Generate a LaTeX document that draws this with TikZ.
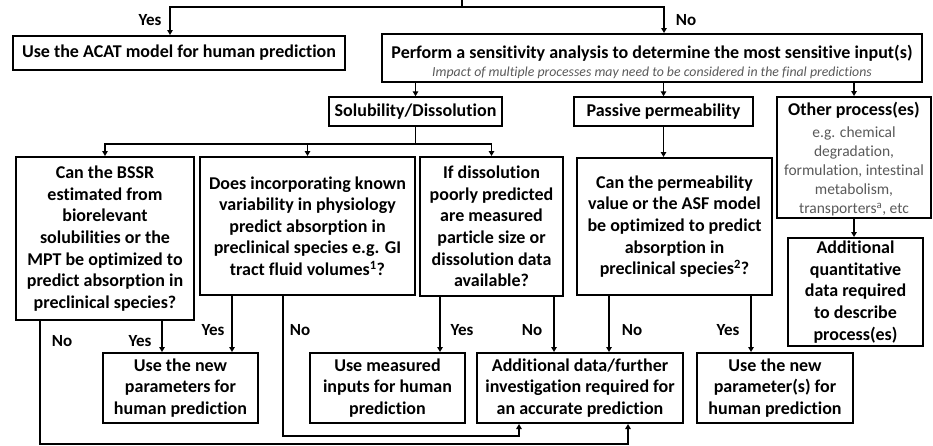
\documentclass[tikz,border=0pt]{standalone}
\usepackage{fontspec}
\setmainfont{Carlito}[Ligatures={NoCommon}]
\usetikzlibrary{arrows.meta}
\definecolor{notegray}{RGB}{89,89,89}
\newcommand\bxfont{\fontsize{18}{21.6}\selectfont\bfseries}
\newcommand\lbfont{\fontsize{17}{20}\selectfont\bfseries}
\newcommand\othfont{\fontsize{15.5}{19}\selectfont\mdseries\color{notegray}}
\begin{document}
\begin{tikzpicture}[x=1pt,y=-1pt,
  box/.style={draw, line width=2pt, align=center, inner sep=0pt, font=\bxfont},
  conn/.style={line width=1.5pt},
  arr/.style={conn, -{Triangle[length=5pt,width=5.5pt]}},
  lbl/.style={font=\lbfont, inner sep=0pt}]
\useasboundingbox (0,0) rectangle (933,445);

% first decision
\node[box, minimum width=332pt, minimum height=34pt] (acat) at (179,53)
  {Use the ACAT model for human prediction};
\node[box, minimum width=540pt, minimum height=48pt] (perf) at (652,58)
  {\rule{0pt}{21pt}Perform a sensitivity analysis to determine the most sensitive input(s)\\[-4pt]
   {\fontsize{13.8}{15}\selectfont\mdseries\itshape\color{notegray}Impact of multiple processes may need to be considered in the final predictions}};

% process categories
\node[box, minimum width=173pt, minimum height=28.5pt] (sol) at (415.5,111.5) {Solubility/Dissolution};
\node[box, minimum width=179pt, minimum height=28.5pt] (pass) at (663.5,111.5) {Passive permeability};
\node[box, minimum width=154pt, minimum height=121pt, font=\othfont] (other) at (854,157.5)
  {{\fontsize{18}{19}\selectfont\bfseries\color{black}\rule{0pt}{17pt}Other process(es)}\\[3pt]
   e.g. chemical\\ degradation,\\ formulation, intestinal\\ metabolism,\\ transporters\textsuperscript{a}, etc};

% questions
\node[box, minimum width=178pt, minimum height=163pt] (qa) at (105,238.5)
  {Can the BSSR\\ estimated from\\ biorelevant\\ solubilities or the\\ MPT be optimized to\\ predict absorption in\\ preclinical species?};
\node[box, minimum width=215pt, minimum height=138pt] (qb) at (307.5,226)
  {Does incorporating known\\ variability in physiology\\ predict absorption in\\ preclinical species e.g. GI\\ tract fluid volumes\textsuperscript{1}?};
\node[box, minimum width=143pt, minimum height=139pt] (qc) at (491.5,226.5)
  {If dissolution\\ poorly predicted\\ are measured\\ particle size or\\ dissolution data\\ available?};
\node[box, minimum width=195pt, minimum height=137pt] (qd) at (674.5,226.5)
  {Can the permeability\\ value or the ASF model\\ be optimized to predict\\ absorption in\\ preclinical species\textsuperscript{2}?};
\node[box, minimum width=135pt, minimum height=108pt] (qe) at (855.5,292)
  {Additional\\ quantitative\\ data required\\ to describe\\ process(es)};

% outcomes
\node[box, minimum width=155pt, minimum height=70pt] (newpar) at (180.5,388)
  {Use the new\\ parameters for\\ human prediction};
\node[box, minimum width=155pt, minimum height=70pt] (measured) at (387.5,388)
  {Use measured\\ inputs for human\\ prediction};
\node[box, minimum width=206pt, minimum height=70pt] (further) at (580,388)
  {Additional data/further\\ investigation required for\\ an accurate prediction};
\node[box, minimum width=156pt, minimum height=70pt] (newperm) at (775,388)
  {Use the new\\ parameter(s) for\\ human prediction};

% top split
\coordinate (root) at (462,0);
\coordinate (fork) at (462,7);
\draw[conn] (root) -- (fork);
\draw[arr] (fork) -| ([xshift=-9pt]acat.north);
\draw[arr] (fork) -| ([xshift=12pt]perf.north);
\node[lbl] (yes0) at (150,20) {Yes};
\node[lbl] (no0) at (686,20) {No};

% sensitivity analysis to categories
\draw[arr] (sol.north |- perf.south) -- (sol.north);
\draw[arr] (pass.north |- perf.south) -- (pass.north);
\draw[arr] (other.north |- perf.south) -- (other.north);

% category to questions
\draw[conn] (sol.south) -- ++(0,17) coordinate (solfork);
\draw[arr] (solfork) -| (qa.north);
\draw[arr] (solfork) -| (qb.north);
\draw[arr] (solfork) -| (qc.north);
\draw[arr] (pass.south) -- (pass.south |- qd.north);
\draw[arr] (other.south) -- (other.south |- qe.north);

% answers
\draw[arr] ([xshift=57pt]qa.south) -- ([xshift=57pt]qa.south |- newpar.north);
\draw[arr] ([xshift=-65pt]qa.south) -- ++(0,123) -| ([xshift=48pt]further.south);
\draw[arr] ([xshift=-75.5pt]qb.south) -- ([xshift=-75.5pt]qb.south |- newpar.north);
\draw[arr] ([xshift=-24.5pt]qb.south) -- ++(0,140) -| ([xshift=-61pt]further.south);
\draw[arr] ([xshift=-51.5pt]qc.south) -- ([xshift=-51.5pt]qc.south |- measured.north);
\draw[arr] ([xshift=62.5pt]qc.south) -- ([xshift=62.5pt]qc.south |- further.north);
\draw[arr] ([xshift=-65.5pt]qd.south) -- ([xshift=-65.5pt]qd.south |- further.north);
\draw[arr] ([xshift=76.5pt]qd.south) -- ([xshift=76.5pt]qd.south |- newperm.north);

\node[lbl] (noa) at (62,341) {No};
\node[lbl] (yesa) at (140,341) {Yes};
\node[lbl] (yesb) at (213,330) {Yes};
\node[lbl] (nob) at (300,330) {No};
\node[lbl] (yesc) at (462,330) {Yes};
\node[lbl] (noc) at (532,330) {No};
\node[lbl] (nod) at (632,330) {No};
\node[lbl] (yesd) at (728,330) {Yes};
\end{tikzpicture}
\end{document}
